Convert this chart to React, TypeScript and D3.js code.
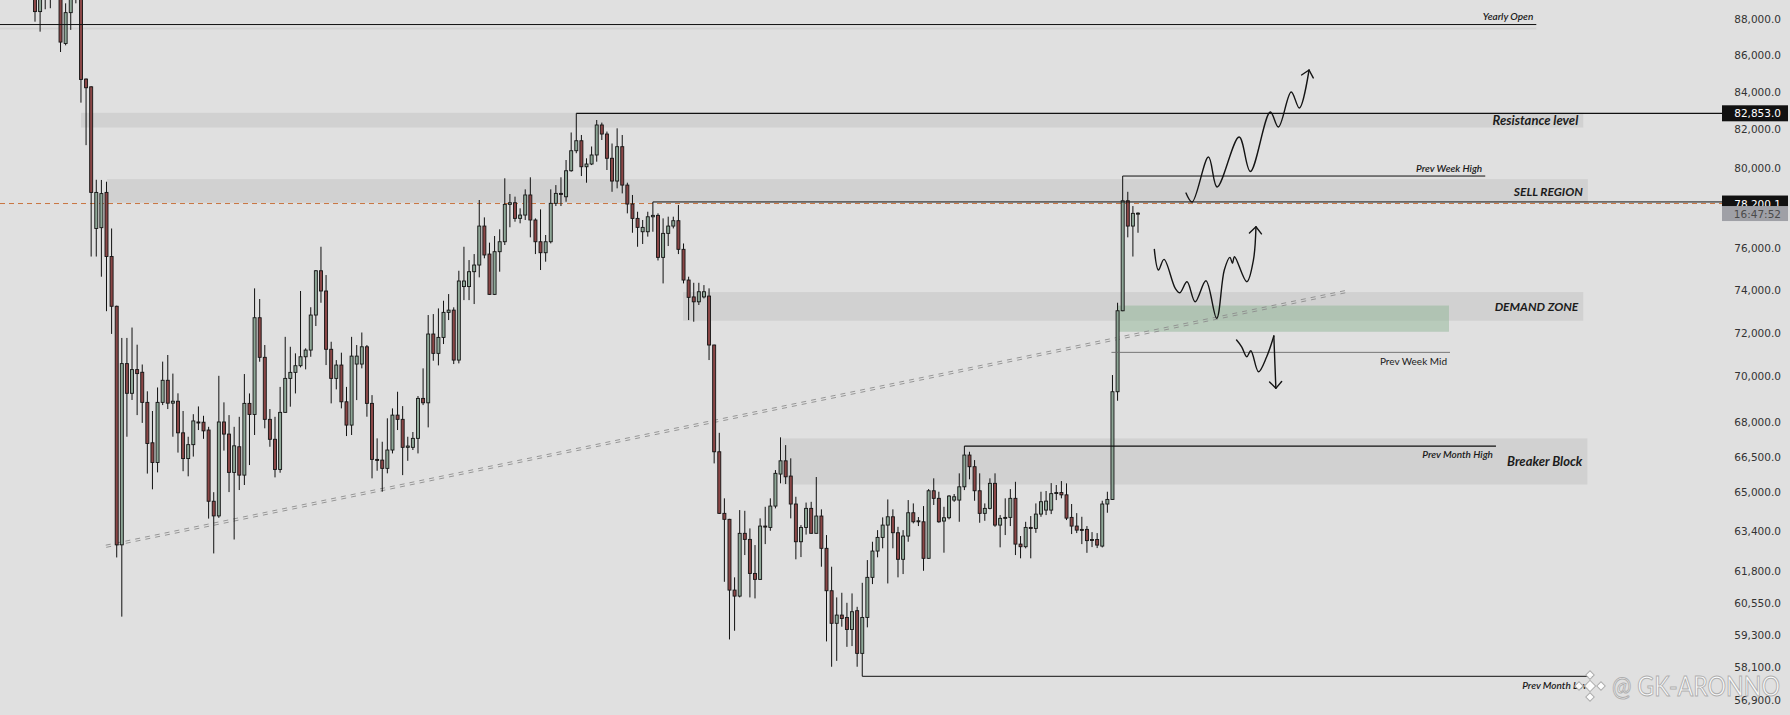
import React from "react";
import * as d3 from "d3";

const W = 1790;
const H = 715;
const PLOT_RIGHT = 1722;

// Daily bars, oldest first: [open, high, low, close]
const ohlc: [number, number, number, number][] = [
  [90100, 90500, 87860, 88430], [88430, 89900, 87300, 89500], [89500, 90300, 88560, 89900], [89900, 90600, 88620, 90200],
  [90200, 90800, 89400, 89800], [89800, 90400, 86170, 86720], [86640, 88900, 86540, 88370], [88370, 89700, 87400, 89300],
  [89300, 90300, 88900, 89800], [89500, 89900, 83420, 84670], [84690, 84720, 81180, 84220], [84270, 84300, 75590, 78760],
  [76960, 79400, 75590, 78760], [77000, 79390, 74620, 78700], [78760, 79300, 72990, 75590], [75590, 76960, 71935, 73220],
  [73220, 73250, 62340, 62845], [62845, 71750, 60020, 70580], [70580, 71750, 67350, 69250], [69250, 72230, 68955, 70310],
  [70310, 71440, 68290, 70130], [70190, 70540, 67950, 68850], [68850, 69340, 65780, 67060], [67090, 68470, 65120, 66250],
  [66250, 69510, 65830, 68850], [68850, 70670, 68730, 69830], [69830, 70970, 68555, 68815], [68815, 70130, 67350, 68900],
  [68900, 69250, 66670, 67520], [67520, 68470, 65880, 66415], [66415, 67350, 65665, 67010], [67010, 68330, 66500, 68035],
  [67990, 68670, 67640, 67980], [67980, 68260, 67260, 67605], [67640, 67780, 63910, 64625], [64625, 65000, 62500, 64020],
  [64020, 70030, 63940, 67990], [67990, 68850, 66755, 67465], [67465, 68290, 65005, 65830], [65830, 67780, 63060, 66960],
  [66920, 68215, 65090, 65715], [65715, 70110, 65300, 68805], [68805, 69245, 66140, 68320], [68320, 74065, 67425, 72685],
  [72685, 73560, 70665, 70865], [70865, 71425, 67715, 68105], [68105, 68555, 66920, 67240], [67240, 68215, 65620, 65955],
  [65955, 69535, 65815, 68410], [68410, 71800, 68395, 69915], [69915, 71345, 68660, 70185], [70185, 71045, 69245, 70485],
  [70485, 73940, 70410, 70890], [70890, 71275, 70320, 71195], [71195, 73175, 70890, 72810], [72810, 74940, 72300, 74905],
  [74905, 76065, 73385, 73940], [73940, 74700, 70515, 71230], [71230, 71575, 68805, 69915], [69915, 70740, 69425, 70515],
  [70515, 71075, 68585, 68875], [68875, 69535, 67380, 67855], [67855, 71800, 67425, 70920], [70560, 71425, 68950, 70920],
  [70560, 72000, 70365, 71345], [71345, 71425, 68220, 68805], [68805, 69170, 65580, 66380], [66380, 67280, 65900, 66350],
  [66350, 67135, 65020, 66000], [66000, 68150, 65790, 66780], [66780, 68585, 66635, 68290], [68290, 69320, 67640, 68105],
  [68105, 68685, 65715, 66895], [66895, 67350, 66320, 66950], [66895, 67555, 66780, 67280], [67280, 69130, 66635, 69025],
  [69025, 70365, 68730, 68830], [68830, 72810, 67755, 71930], [71930, 72855, 70710, 71045], [71045, 73120, 70500, 71775],
  [71775, 73480, 71470, 72935], [72935, 73795, 72577, 73040], [73040, 73170, 70560, 70740], [70740, 74905, 70590, 74415],
  [74150, 76065, 73510, 74415], [74150, 75420, 73510, 74860], [74860, 75710, 73325, 75180], [75180, 78377, 74590, 77080],
  [77080, 77510, 75505, 75665], [75710, 76265, 73760, 73780], [73780, 76590, 73750, 75825], [75825, 76920, 74860, 76310],
  [76310, 79475, 76150, 78160], [78160, 78680, 77020, 78240], [78240, 78545, 77295, 77460], [77460, 77960, 77215, 77625],
  [77625, 78915, 77380, 78630], [78630, 79525, 76525, 77380], [77380, 77460, 75710, 76310], [76310, 77910, 74940, 75775],
  [75775, 76640, 75340, 76310], [76310, 78915, 76230, 78210], [78210, 79130, 78075, 78710], [78710, 79525, 78075, 78660],
  [78540, 80411, 78290, 79860], [79860, 81840, 79810, 80890], [80890, 82853, 80760, 81410], [81410, 81710, 79590, 80065],
  [80065, 80500, 79250, 80205], [80205, 81110, 80150, 80670], [80670, 82498, 80325, 82235], [82235, 82360, 81448, 81760],
  [81760, 81890, 79898, 80500], [80500, 81265, 78790, 79335], [79335, 82060, 78965, 81100], [81100, 81710, 78710, 79130],
  [79130, 79250, 77710, 78175], [78175, 78630, 76750, 77460], [77460, 77790, 76065, 77015], [76800, 77380, 76200, 77015],
  [76800, 77790, 76560, 77540], [77540, 78280, 76800, 77610], [77610, 77710, 75400, 75550], [75550, 77460, 74300, 76720],
  [76720, 77545, 76100, 77080], [77080, 77545, 76965, 77345], [77345, 78125, 75710, 75940], [75940, 76225, 74300, 74461],
  [74461, 74620, 72577, 73640], [73660, 74330, 72500, 73430], [73430, 74330, 73280, 73905], [73660, 74220, 73590, 73905],
  [73700, 74065, 70741, 71425], [71425, 71440, 66210, 66705], [66705, 67520, 64100, 64125], [64125, 64745, 61375, 63880],
  [63880, 63900, 59150, 61050], [61050, 61550, 59480, 60815], [60815, 64260, 60765, 63310], [63310, 64230, 62435, 63065],
  [63065, 63510, 60765, 61705], [61705, 62835, 60725, 61470], [61470, 63920, 61450, 63605], [63605, 64395, 62875, 63580],
  [63550, 64745, 63415, 64425], [64425, 65928, 64330, 65790], [65760, 67325, 65370, 66320], [66320, 66990, 65340, 65645],
  [65675, 66425, 63920, 64510], [64510, 64810, 62265, 62970], [62970, 63645, 62355, 63550], [63550, 64570, 63260, 64330],
  [64330, 64600, 63300, 63310], [63310, 65635, 63300, 64015], [64015, 64290, 61970, 62705], [62705, 63240, 59075, 61025],
  [61025, 61970, 58125, 59765], [59765, 60765, 58345, 60080], [60080, 60945, 59635, 59950], [59990, 60555, 58870, 59530],
  [59530, 60920, 58900, 60210], [60250, 60400, 58125, 58625], [58625, 61335, 57770, 59990], [59990, 62235, 59610, 61550],
  [61550, 62970, 61285, 62595], [62595, 63440, 62345, 63145], [63145, 63960, 62705, 63645], [63645, 64700, 61310, 63985],
  [63985, 64290, 62705, 63335], [63335, 63575, 61550, 62265], [62265, 63440, 61680, 63200], [63200, 64673, 62970, 64150],
  [64150, 64535, 63715, 63780], [63800, 63975, 63605, 63820], [63780, 64425, 61810, 62305], [62305, 65130, 62290, 65060],
  [65060, 65580, 64470, 64745], [64745, 65020, 63740, 63780], [63810, 64395, 62530, 63945], [63945, 64880, 63880, 64840],
  [64673, 64925, 64600, 64810], [64673, 65790, 63780, 65225], [65225, 66950, 65089, 66565], [66565, 66705, 65540, 66070],
  [66070, 66351, 64645, 65060], [65060, 65790, 63740, 64125], [64125, 64535, 63820, 64330], [64330, 65580, 64290, 65370],
  [65370, 65790, 63575, 63645], [63645, 64055, 62745, 63920], [63920, 64745, 63240, 63960], [63960, 65130, 63605, 64745],
  [64745, 65435, 62435, 62875], [62875, 63200, 62305, 62770], [62770, 63780, 62705, 63550], [63550, 64015, 62305, 63510],
  [63510, 64535, 63330, 64095], [64095, 65020, 63985, 64605], [64260, 65050, 64055, 64630], [64260, 65380, 64095, 64940],
  [64970, 65300, 64673, 64985], [64985, 65465, 64745, 64890], [64890, 65370, 63850, 63930], [63960, 64510, 63280, 63605],
  [63605, 64135, 63320, 63440], [63470, 63985, 62875, 63460], [63470, 63605, 62525, 63015], [63060, 63360, 62755, 63040],
  [63060, 63320, 62715, 62835], [62795, 64645, 62740, 64510], [64510, 65020, 64150, 64700], [64700, 70065, 64680, 69320],
  [69320, 73385, 68920, 73010], [73010, 79590, 72990, 78340], [78340, 78790, 76525, 77080], [77080, 78075, 75590, 77710],
  [77680, 77760, 76750, 77720],
];

const priceTicks = [88000, 86000, 84000, 82000, 80000, 76000, 74000, 72000, 70000, 68000, 66500, 65000, 63400, 61800, 60550, 59300, 58100, 56900];

const lastPrice = 78200.1;
const lastPriceTime = "16:47:52";

// Highlighted price bands; from/to are bar positions
const zones = [
  { label: "Resistance level", top: 82880, bottom: 82100, from: 9.0, to: 303.2, size: 13 },
  { label: "SELL REGION", top: 79430, bottom: 78235, from: 14.1, to: 304.1, size: 12 },
  { label: "DEMAND ZONE", top: 73890, bottom: 72545, from: 126.9, to: 303.2, size: 12 },
  { label: "Breaker Block", top: 67280, bottom: 65320, from: 146.3, to: 304.0, size: 13 },
];
const entryZone = { top: 73255, bottom: 72036, from: 211.9, to: 276.9 };

// Reference levels: price, start bar, end bar
const levels = [
  { label: "Yearly Open", price: 87700, from: -6.9, to: 294.0, side: -1, italic: true, color: "#111", width: 1 },
  { label: "Prev Week High", price: 79590, from: 213, to: 284.0, side: -1, italic: true, color: "#111", width: 1 },
  { label: "Prev Week Mid", price: 71090, from: 210.8, to: 277.1, side: 1, italic: false, color: "#6a6a6a", width: 0.9 },
  { label: "Prev Month High", price: 66950, from: 182, to: 286.1, side: 1, italic: true, color: "#111", width: 1.2 },
  { label: "Prev Month Low", price: 57770, from: 162, to: 305.1, side: 1, italic: true, color: "#111", width: 1 },
];
// Levels running into the price scale
const resistance = { price: 82853, from: 106 };
const swingHigh = { price: 78280, from: 121 };

const trendline: [number, number][] = [[13.9, 62788], [257.5, 73952]];

// Projected scenarios: [bar position, price]
const pathUp: [number, number][] = [
  [225.4, 78728], [226.6, 78277], [229.8, 80566], [231.5, 79032], [235.8, 81604], [238.0, 79821],
  [241.9, 82922], [243.5, 82128], [246.0, 83990], [247.6, 83133], [249.5, 85184],
];
const pathRange: [number, number][] = [
  [219.2, 75940], [220.0, 74940], [221.1, 75455], [223.3, 74066], [224.2, 73857], [225.6, 74380],
  [227.2, 73432], [229.3, 74428], [231.4, 72657], [232.9, 74940], [234.0, 75552], [234.5, 75262],
  [234.9, 75581], [237.3, 74380], [238.6, 75421], [239.1, 77047],
];
const pathDown: [number, number][] = [
  [235.3, 71653], [236.3, 71346], [237.3, 70890], [238.1, 71164], [239.6, 70213], [241.2, 70890], [242.6, 71838],
];
const pathDownShaft: [number, number][] = [[242.6, 71838], [243.0, 69470]];

const BG = "#e0e0e0";
const ZONE = "#cfcfcf";
const UP = "#8ea797";
const DOWN = "#8a4646";
const LABEL_FONT = "Lato, 'Open Sans', sans-serif";
const AXIS_FONT = "'DejaVu Sans', sans-serif";

const fmt = d3.format(",.1f");

export default function App() {
  const x = d3.scaleLinear().domain([0, ohlc.length - 1]).range([35, 1138]);
  const y = d3.scaleLog().domain([56900, 88000]).range([700, 19.2]);

  const pt = (d: [number, number]): [number, number] => [x(d[0]), y(d[1])];
  const curve = d3.line<[number, number]>().x((d) => x(d[0])).y((d) => y(d[1])).curve(d3.curveCatmullRom.alpha(0.5));
  const straight = d3.line<[number, number]>().x((d) => x(d[0])).y((d) => y(d[1]));

  const arrowHead = (pts: [number, number][]) => {
    const [ax, ay] = pt(pts[pts.length - 1]);
    const [bx, by] = pt(pts[pts.length - 2]);
    const ang = Math.atan2(ay - by, ax - bx);
    const len = 9;
    const spread = (42 * Math.PI) / 180;
    const a1 = ang + Math.PI - spread;
    const a2 = ang + Math.PI + spread;
    return `M${ax + len * Math.cos(a1)},${ay + len * Math.sin(a1)}L${ax},${ay}L${ax + len * Math.cos(a2)},${ay + len * Math.sin(a2)}`;
  };

  // double dashed trendline
  const [t1, t2] = trendline.map(pt);
  const dx = t2[0] - t1[0];
  const dy = t2[1] - t1[1];
  const len = Math.hypot(dx, dy);
  const nx = -dy / len;
  const ny = dx / len;

  const yRes = y(resistance.price);
  const yLast = y(lastPrice);

  return (
    <svg
      width={W}
      height={H}
      viewBox={`0 0 ${W} ${H}`}
      style={{ position: "absolute", left: 0, top: 0, display: "block" }}
    >
      <rect x={0} y={0} width={W} height={H} fill={BG} />

      {/* price bands */}
      {zones.map((z) => (
        <rect
          key={z.label}
          x={x(z.from)}
          y={y(z.top)}
          width={x(z.to) - x(z.from)}
          height={y(z.bottom) - y(z.top)}
          fill={ZONE}
          opacity={0.9}
        />
      ))}
      <rect
        x={x(entryZone.from)}
        y={y(entryZone.top)}
        width={x(entryZone.to) - x(entryZone.from)}
        height={y(entryZone.bottom) - y(entryZone.top)}
        fill="#8fb596"
        opacity={0.5}
      />

      {/* faint band under the yearly open */}
      <line x1={x(levels[0].from)} x2={x(levels[0].to)} y1={y(levels[0].price) + 4} y2={y(levels[0].price) + 4} stroke="#d3d3d3" strokeWidth={2} />

      {/* trendline */}
      {[-1.1, 1.1].map((o) => (
        <line
          key={o}
          x1={t1[0] + nx * o}
          y1={t1[1] + ny * o}
          x2={t2[0] + nx * o}
          y2={t2[1] + ny * o}
          stroke="#8c8c8c"
          strokeWidth={0.9}
          strokeDasharray="5,5"
        />
      ))}

      {/* last price */}
      <line x1={0} x2={PLOT_RIGHT} y1={yLast} y2={yLast} stroke="#c9743f" strokeWidth={1} strokeDasharray="5,4" />

      {/* candles */}
      {ohlc.map(([o, h, l, c], i) => {
        const cx = x(i);
        const up = c >= o;
        const top = y(Math.max(o, c));
        const bot = y(Math.min(o, c));
        return (
          <g key={i}>
            <line x1={cx} x2={cx} y1={y(h)} y2={y(l)} stroke="#111" strokeWidth={1} />
            <rect x={cx - 1.5} y={top} width={3} height={Math.max(1, bot - top)} fill={up ? UP : DOWN} stroke="#151515" strokeWidth={0.9} />
          </g>
        );
      })}

      {/* levels */}
      <line x1={x(resistance.from)} x2={PLOT_RIGHT} y1={yRes} y2={yRes} stroke="#111" strokeWidth={1.3} />
      <line x1={x(swingHigh.from)} x2={PLOT_RIGHT} y1={y(swingHigh.price)} y2={y(swingHigh.price)} stroke="#111" strokeWidth={1} />
      {levels.map((lv) => {
        const ly = y(lv.price);
        return (
          <g key={lv.label}>
            <line x1={x(lv.from)} x2={x(lv.to)} y1={ly} y2={ly} stroke={lv.color} strokeWidth={lv.width} />
            <text
              x={x(lv.to) - 3}
              y={ly + lv.side * 8.3}
              textAnchor="end"
              dominantBaseline="central"
              fontFamily={LABEL_FONT}
              fontSize={10}
              fontStyle={lv.italic ? "italic" : "normal"}
              fontWeight={lv.italic ? 600 : 400}
              fill="#1a1a1a"
            >
              {lv.label}
            </text>
          </g>
        );
      })}

      {zones.map((z) => (
        <text
          key={z.label}
          x={x(z.to) - 5}
          y={(y(z.top) + y(z.bottom)) / 2}
          textAnchor="end"
          dominantBaseline="central"
          fontFamily={LABEL_FONT}
          fontSize={z.size}
          fontStyle="italic"
          fontWeight={700}
          fill="#1c1c1c"
        >
          {z.label}
        </text>
      ))}

      {/* projected paths */}
      <g fill="none" stroke="#141414" strokeWidth={1.4} strokeLinecap="round" strokeLinejoin="round">
        <path d={curve(pathUp) ?? ""} />
        <path d={arrowHead(pathUp)} />
        <path d={curve(pathRange) ?? ""} />
        <path d={arrowHead(pathRange)} />
        <path d={curve(pathDown) ?? ""} />
        <path d={straight(pathDownShaft) ?? ""} />
        <path d={arrowHead(pathDownShaft)} />
      </g>

      {/* price scale */}
      {priceTicks.map((v) => (
        <text
          key={v}
          x={1781}
          y={y(v)}
          textAnchor="end"
          dominantBaseline="central"
          fontFamily={AXIS_FONT}
          fontSize={10.5}
          fill="#333"
        >
          {fmt(v)}
        </text>
      ))}

      <rect x={PLOT_RIGHT} y={yRes - 8} width={66} height={16} fill="#111" />
      <text x={1781} y={yRes} textAnchor="end" dominantBaseline="central" fontFamily={AXIS_FONT} fontSize={10.5} fill="#fff">
        {fmt(resistance.price)}
      </text>

      <rect x={PLOT_RIGHT} y={yLast - 8} width={66} height={16} fill="#111" />
      <text x={1781} y={yLast} textAnchor="end" dominantBaseline="central" fontFamily={AXIS_FONT} fontSize={10.5} fill="#fff">
        {fmt(lastPrice)}
      </text>
      <rect x={PLOT_RIGHT} y={yLast + 2.5} width={66} height={15} fill="#9fa0a6" />
      <text x={1781} y={yLast + 10} textAnchor="end" dominantBaseline="central" fontFamily={AXIS_FONT} fontSize={10.5} fill="#4a4a4a">
        {lastPriceTime}
      </text>

      {/* author mark */}
      <g opacity={0.95}>
        <g transform="translate(1590,686)" fill="#fff" stroke="#ababab" strokeWidth={1}>
          <rect x={-4} y={-4} width={8} height={8} transform="rotate(45)" />
          <rect x={-3} y={-14} width={6} height={6} transform="rotate(45 0 -11)" />
          <rect x={-3} y={8} width={6} height={6} transform="rotate(45 0 11)" />
          <rect x={-14} y={-3} width={6} height={6} transform="rotate(45 -11 0)" />
          <rect x={8} y={-3} width={6} height={6} transform="rotate(45 11 0)" />
        </g>
        <text
          x={1612}
          y={696}
          fontFamily={LABEL_FONT}
          fontSize={26}
          fill="#fff"
          stroke="#adadad"
          strokeWidth={1}
          textLength={168}
          lengthAdjust="spacingAndGlyphs"
        >
          @ GK-ARONNO
        </text>
      </g>
    </svg>
  );
}
